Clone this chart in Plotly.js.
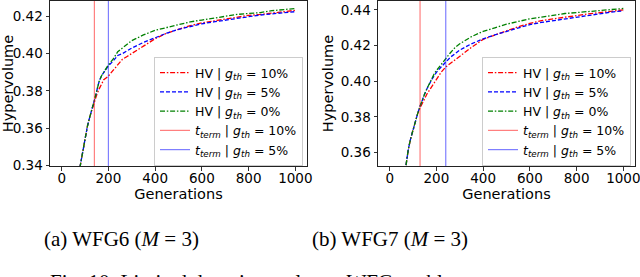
<!DOCTYPE html>
<html>
<head>
<meta charset="utf-8">
<script src="https://cdn.plot.ly/plotly-3.0.1.min.js"></script>
<style>
html,body{margin:0;padding:0;background:#fff;}
#chart{width:640px;height:277px;}
</style>
</head>
<body>
<div id="chart"></div>
<script>
// ---------- WFG6 (M = 3) ----------
const genA = [78, 90, 100, 110, 120, 130, 140, 150, 160, 170, 180, 190, 200, 220, 240, 260, 280, 300, 350, 400, 450, 500, 550, 600, 650, 700, 750, 800, 850, 900, 950, 1000];
const hvA10 = [0.339, 0.348, 0.355, 0.361, 0.366, 0.370, 0.375, 0.378, 0.381, 0.384, 0.386, 0.387, 0.388, 0.391, 0.394, 0.397, 0.3985, 0.400, 0.404, 0.408, 0.411, 0.413, 0.415, 0.4165, 0.4175, 0.4185, 0.4195, 0.4205, 0.421, 0.4218, 0.4225, 0.4232];
const hvA5  = [0.339, 0.348, 0.355, 0.361, 0.366, 0.370, 0.375, 0.380, 0.385, 0.388, 0.390, 0.392, 0.3935, 0.396, 0.399, 0.400, 0.4015, 0.403, 0.406, 0.4085, 0.411, 0.413, 0.4145, 0.416, 0.417, 0.418, 0.419, 0.420, 0.4207, 0.4213, 0.422, 0.4225];
const hvA0  = [0.339, 0.348, 0.355, 0.361, 0.366, 0.370, 0.375, 0.380, 0.385, 0.388, 0.390, 0.392, 0.394, 0.397, 0.401, 0.403, 0.405, 0.407, 0.410, 0.4125, 0.414, 0.4155, 0.417, 0.418, 0.419, 0.420, 0.421, 0.4215, 0.422, 0.423, 0.4235, 0.4242];
const termA10 = 140;
const termA5 = 200;

// ---------- WFG7 (M = 3) ----------
const genB = [70, 80, 90, 100, 110, 120, 130, 140, 150, 160, 170, 180, 190, 200, 220, 240, 260, 280, 300, 350, 400, 450, 500, 550, 600, 650, 700, 750, 800, 850, 900, 950, 1000];
const hvB10 = [0.353, 0.362, 0.368, 0.373, 0.378, 0.382, 0.385, 0.388, 0.391, 0.393, 0.395, 0.397, 0.399, 0.401, 0.405, 0.408, 0.410, 0.4125, 0.414, 0.419, 0.4235, 0.426, 0.4283, 0.4305, 0.4325, 0.434, 0.435, 0.436, 0.437, 0.4378, 0.4385, 0.4392, 0.440];
const hvB5  = [0.353, 0.362, 0.368, 0.373, 0.378, 0.382, 0.386, 0.390, 0.393, 0.396, 0.399, 0.401, 0.403, 0.405, 0.408, 0.411, 0.4135, 0.4155, 0.4175, 0.421, 0.4238, 0.426, 0.428, 0.430, 0.4318, 0.433, 0.434, 0.435, 0.436, 0.437, 0.438, 0.4388, 0.4395];
const hvB0  = [0.353, 0.362, 0.368, 0.373, 0.378, 0.382, 0.386, 0.390, 0.393, 0.396, 0.399, 0.402, 0.404, 0.406, 0.4095, 0.413, 0.416, 0.419, 0.421, 0.425, 0.428, 0.430, 0.432, 0.4335, 0.435, 0.436, 0.437, 0.438, 0.4385, 0.439, 0.4395, 0.440, 0.4408];
const termB10 = 130;
const termB5 = 240;

const xTicks = [0, 200, 400, 600, 800, 1000];
const yTicksA = [0.34, 0.36, 0.38, 0.40, 0.42];
const yTicksB = [0.36, 0.38, 0.40, 0.42, 0.44];

const labels = [
  'HV | <i>g</i><sub><i>th</i></sub> = 10%',
  'HV | <i>g</i><sub><i>th</i></sub> = 5%',
  'HV | <i>g</i><sub><i>th</i></sub> = 0%',
  '<i>t</i><sub><i>term</i></sub> | <i>g</i><sub><i>th</i></sub> = 10%',
  '<i>t</i><sub><i>term</i></sub> | <i>g</i><sub><i>th</i></sub> = 5%'
];
const captions = ['(a) WFG6 (<i>M</i> = 3)', '(b) WFG7 (<i>M</i> = 3)'];
const figCaption = 'Fig. 10: Limited domain results on WFG problems.';

// ---------- layout constants ----------
const W = 640, H = 277;
const xRange = [-50, 1050];
const yRangeA = [0.3398, 0.4282];
const yRangeB = [0.3525, 0.4450];
const FONT = 'DejaVu Sans, sans-serif';
const styles = [
  {color: '#ff0000', dash: '5px,1.8px,1.5px,1.8px'},
  {color: '#0000ff', dash: '4px,2px'},
  {color: '#008000', dash: '5px,1.8px,1.5px,1.8px'}
];

function panel(gen, series, t10, t5, yr, xa, ya, leg) {
  const tr = [];
  series.forEach((s, i) => {
    tr.push({x: gen, y: s, xaxis: xa, yaxis: ya, type: 'scatter', mode: 'lines',
      name: labels[i], legend: leg,
      line: {color: styles[i].color, width: 1.3, dash: styles[i].dash}});
  });
  tr.push({x: [t10, t10], y: yr, xaxis: xa, yaxis: ya, type: 'scatter', mode: 'lines',
    name: labels[3], legend: leg, line: {color: 'rgba(255,0,0,0.5)', width: 1.2}});
  tr.push({x: [t5, t5], y: yr, xaxis: xa, yaxis: ya, type: 'scatter', mode: 'lines',
    name: labels[4], legend: leg, line: {color: 'rgba(0,0,255,0.5)', width: 1.2}});
  return tr;
}

const data = [].concat(
  panel(genA, [hvA10, hvA5, hvA0], termA10, termA5, yRangeA, 'x', 'y', 'legend'),
  panel(genB, [hvB10, hvB5, hvB0], termB10, termB5, yRangeB, 'x2', 'y2', 'legend2')
);

function xaxis(dom, anchor) {
  return {domain: dom, anchor: anchor, range: xRange, tickvals: xTicks,
    ticks: 'outside', ticklen: 3.5, tickwidth: 0.8, tickcolor: '#000',
    ticklabeloverflow: 'allow', ticklabelstandoff: -4,
    showline: true, mirror: true, linecolor: '#222', linewidth: 1,
    showgrid: false, zeroline: false,
    tickfont: {family: FONT, size: 13.5, color: '#000'},
    title: {text: 'Generations', font: {family: FONT, size: 14.5, color: '#000'}, standoff: 0}};
}
function yaxis(dom, anchor, yr, tv) {
  return {domain: dom, anchor: anchor, range: yr, tickvals: tv, tickformat: '.2f',
    ticks: 'outside', ticklen: 3.5, tickwidth: 0.8, tickcolor: '#000',
    ticklabeloverflow: 'allow',
    showline: true, mirror: true, linecolor: '#222', linewidth: 1,
    showgrid: false, zeroline: false,
    tickfont: {family: FONT, size: 13.5, color: '#000'},
    title: {text: 'Hypervolume', font: {family: FONT, size: 14.5, color: '#000'}, standoff: 3}};
}
function legend(x) {
  return {x: x, y: 1 - 57 / H, xanchor: 'left', yanchor: 'top',
    bgcolor: 'rgba(255,255,255,0.85)', bordercolor: '#cccccc', borderwidth: 1,
    font: {family: FONT, size: 12.5, color: '#000'}, tracegroupgap: 0, itemwidth: 30};
}

const yDom = [1 - 166 / H, 1 - 1 / H];
const layout = {
  width: W, height: H,
  margin: {l: 0, r: 0, t: 0, b: 0},
  paper_bgcolor: '#fff', plot_bgcolor: '#fff',
  showlegend: true,
  xaxis: xaxis([50 / W, 307 / W], 'y'),
  yaxis: yaxis(yDom, 'x', yRangeA, yTicksA),
  xaxis2: xaxis([378 / W, 635 / W], 'y2'),
  yaxis2: yaxis(yDom, 'x2', yRangeB, yTicksB),
  legend: legend(154 / W),
  legend2: legend(482 / W),
  annotations: [
    {text: captions[0], xref: 'paper', yref: 'paper', x: 121 / W, y: 1 - 239 / H,
      xanchor: 'center', yanchor: 'middle', showarrow: false,
      font: {family: 'Liberation Serif, serif', size: 21, color: '#000'}},
    {text: captions[1], xref: 'paper', yref: 'paper', x: 390 / W, y: 1 - 239 / H,
      xanchor: 'center', yanchor: 'middle', showarrow: false,
      font: {family: 'Liberation Serif, serif', size: 21, color: '#000'}},
    {text: figCaption, xref: 'paper', yref: 'paper', x: 48 / W, y: 1 - 267.5 / H,
      xanchor: 'left', yanchor: 'top', showarrow: false,
      font: {family: 'Liberation Serif, serif', size: 21, color: '#000'}}
  ]
};

Plotly.newPlot('chart', data, layout, {staticPlot: true, displayModeBar: false});
</script>
</body>
</html>
